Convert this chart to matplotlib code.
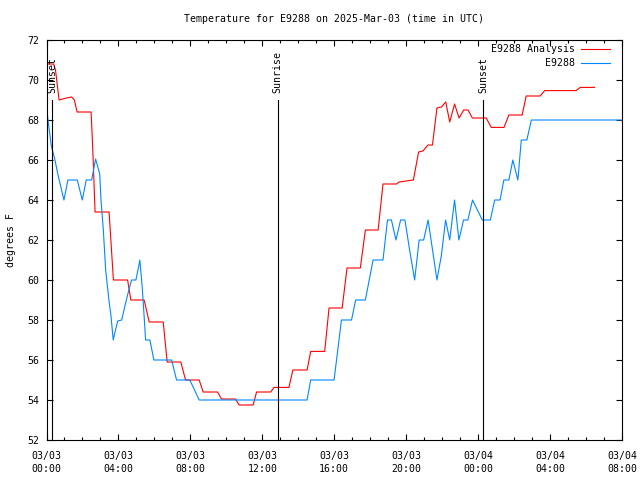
import matplotlib
matplotlib.use("Agg")
import matplotlib.pyplot as plt
from matplotlib.lines import Line2D

# hours since 2025-03-03 00:00 UTC
analysis_hours = [0.0, 0.4, 0.5, 0.7, 1.1, 1.4, 1.55, 1.7, 2.48, 2.57, 2.7, 3.48, 3.72,
                  4.51, 4.69, 5.43, 5.71, 6.49, 6.71, 7.47, 7.73, 8.49, 8.71, 9.51, 9.73,
                  10.51, 10.71, 11.49, 11.68, 12.47, 12.65, 13.48, 13.7, 14.49, 14.69,
                  15.47, 15.71, 16.44, 16.71, 17.45, 17.73, 18.44, 18.71, 19.46, 19.6,
                  20.4, 20.69, 20.93, 21.21, 21.46, 21.71, 21.96, 22.2, 22.42, 22.69,
                  22.94, 23.2, 23.44, 23.68, 24.45, 24.73, 25.44, 25.71, 26.45, 26.67,
                  27.45, 27.7, 29.45, 29.68, 30.47]
analysis_temps = [70.8, 70.8, 70.5, 69.0, 69.1, 69.15, 69.0, 68.4, 68.4, 66.6, 63.4, 63.4, 60.0,
                  60.0, 59.0, 59.0, 57.9, 57.9, 55.9, 55.9, 55.0, 55.0, 54.4, 54.4, 54.05,
                  54.05, 53.75, 53.75, 54.4, 54.4, 54.63, 54.63, 55.5, 55.5, 56.43,
                  56.43, 58.6, 58.6, 60.6, 60.6, 62.5, 62.5, 64.8, 64.8, 64.9,
                  65.0, 66.4, 66.45, 66.75, 66.75, 68.6, 68.65, 68.9, 67.9, 68.8,
                  68.1, 68.5, 68.5, 68.1, 68.1, 67.63, 67.63, 68.25, 68.25, 69.2,
                  69.2, 69.47, 69.47, 69.63, 69.63]

obs_hours = [0.0, 0.08, 0.27, 0.47, 0.64, 0.97, 1.19, 1.71, 1.99, 2.21, 2.51, 2.73, 2.96,
             3.03, 3.16, 3.29, 3.47, 3.58, 3.71, 3.77, 3.86, 3.96, 4.18, 4.36, 4.55, 4.73,
             4.97, 5.14, 5.19, 5.32, 5.43, 5.51, 5.75, 5.97, 6.96, 7.23, 7.97, 8.49,
             14.49, 14.69, 15.99, 16.4, 16.96, 17.19, 17.73, 18.16, 18.71, 18.96, 19.18,
             19.43, 19.69, 19.93, 20.19, 20.47, 20.72, 20.97, 21.22, 21.71, 21.96, 22.19,
             22.42, 22.69, 22.93, 23.19, 23.43, 23.69, 24.23, 24.68, 24.92, 25.22, 25.43,
             25.71, 25.93, 26.21, 26.4, 26.71, 26.96, 32.0]
obs_temps = [68.8, 68.0, 66.7, 66.0, 65.25, 64.0, 65.0, 65.0, 64.0, 65.0, 65.0, 66.05, 65.3,
             64.0, 62.5, 60.5, 59.0, 58.25, 57.0, 57.25, 57.58, 57.95, 58.0, 58.7, 59.4, 60.0,
             60.0, 60.75, 61.0, 59.67, 58.17, 57.0, 57.0, 56.0, 56.0, 55.0, 55.0, 54.0,
             54.0, 55.0, 55.0, 58.0, 58.0, 59.0, 59.0, 61.0, 61.0, 63.0, 63.0,
             62.0, 63.0, 63.0, 61.5, 60.0, 62.0, 62.0, 63.0, 60.0, 61.25, 63.0,
             62.0, 64.0, 62.0, 63.0, 63.0, 64.0, 63.0, 63.0, 64.0, 64.0, 65.0,
             65.0, 66.0, 65.0, 67.0, 67.0, 68.0, 68.0]

sun_names = ["Sunset", "Sunrise", "Sunset"]
sun_hours = [0.32, 12.85, 24.27]

tick_hours = [0, 4, 8, 12, 16, 20, 24, 28, 32]
tick_labels = ["03/03\n00:00", "03/03\n04:00", "03/03\n08:00", "03/03\n12:00",
               "03/03\n16:00", "03/03\n20:00", "03/04\n00:00", "03/04\n04:00",
               "03/04\n08:00"]
y_ticks = [52, 54, 56, 58, 60, 62, 64, 66, 68, 70, 72]

RED = "#ff0000"
BLUE = "#0088ff"
FS = 7.1
LW = 0.8

plt.rcParams["font.family"] = ["DejaVu Sans Mono"]
plt.rcParams["font.size"] = FS

fig = plt.figure(figsize=(6.4, 4.8), dpi=100)
ax = fig.add_axes([46.5 / 640, 40 / 480, 575.5 / 640, 400 / 480])

ax.plot(analysis_hours, analysis_temps, color=RED, lw=LW)
ax.plot(obs_hours, obs_temps, color=BLUE, lw=LW)

for name, h in zip(sun_names, sun_hours):
    ax.plot([h, h], [52, 69], color="black", lw=LW)
    ax.text(h, 69.35, name, rotation=90, ha="center", va="bottom", fontsize=FS)

ax.set_xlim(0, 32)
ax.set_ylim(52, 72)
ax.set_xticks(tick_hours)
ax.set_xticklabels(tick_labels, linespacing=1.3)
ax.set_xticks(range(0, 33), minor=True)
ax.set_yticks(y_ticks)
ax.tick_params(which="both", direction="in", top=True, right=True, width=LW, labelsize=FS)
ax.tick_params(which="major", length=4)
ax.tick_params(which="minor", length=2)
ax.tick_params(axis="x", pad=8)
ax.tick_params(axis="y", pad=5)
for s in ax.spines.values():
    s.set_linewidth(LW)

ax.set_ylabel("degrees F", fontsize=FS, labelpad=8.5)
fig.text(0.5 + 14 / 640, 1 - 19 / 480, "Temperature for E9288 on 2025-Mar-03 (time in UTC)",
         ha="center", va="center", fontsize=FS)

# legend, gnuplot style: right-aligned key text followed by the line sample
for i, (label, color) in enumerate([("E9288 Analysis", RED), ("E9288", BLUE)]):
    y = 1 - (49 + 14 * i) / 480
    fig.text(575 / 640, y, label, ha="right", va="center", fontsize=FS)
    fig.add_artist(Line2D([581 / 640, 610 / 640], [y, y], color=color, lw=LW,
                          transform=fig.transFigure))

fig.savefig("out.png", dpi=100)
